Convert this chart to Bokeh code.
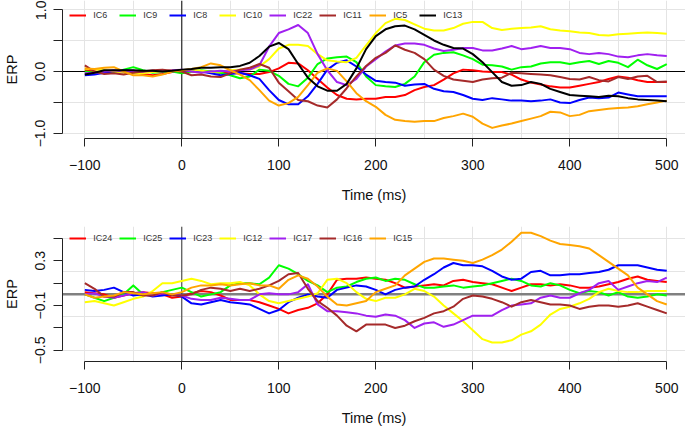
from bokeh.plotting import figure
from bokeh.models import Range1d, FixedTicker, Span, Legend, LegendItem
from bokeh.layouts import column
from bokeh.embed import file_html
from bokeh.resources import INLINE

# ---------------- data ----------------
time_ms = list(range(-100, 501, 10))

# top panel
ic6 = [0.02, 0.00, -0.02, 0.00, 0.02, 0.00, -0.04, -0.06, -0.04, -0.01,
       0.01, 0.00, -0.01, 0.00, -0.02, -0.03, -0.03, -0.04, -0.04, -0.01,
       0.05, 0.14, 0.13, 0.02, -0.12, -0.26, -0.38, -0.44, -0.45, -0.44,
       -0.44, -0.41, -0.41, -0.38, -0.30, -0.25, -0.22, -0.13, -0.03, 0.03,
       0.02, 0.00, -0.01, -0.01, -0.05, -0.13, -0.18, -0.21, -0.24, -0.26,
       -0.26, -0.23, -0.20, -0.17, -0.12, -0.08, -0.10, -0.14, -0.17, -0.17,
       -0.17]
ic9 = [0.00, -0.02, 0.00, -0.02, 0.03, 0.07, 0.02, -0.02, -0.01, 0.00,
       -0.03, 0.00, 0.02, 0.00, -0.02, -0.06, -0.11, -0.08, 0.03, 0.01,
       -0.07, -0.20, -0.24, -0.10, 0.12, 0.21, 0.23, 0.24, 0.15, -0.08,
       -0.22, -0.24, -0.25, -0.20, -0.08, 0.15, 0.27, 0.30, 0.31, 0.26,
       0.20, 0.11, 0.10, 0.08, 0.03, 0.07, 0.08, 0.13, 0.15, 0.15,
       0.12, 0.15, 0.17, 0.12, 0.17, 0.14, 0.07, 0.19, 0.10, 0.04,
       0.12]
ic8 = [-0.06, -0.05, -0.02, 0.00, 0.02, 0.01, -0.01, 0.00, 0.01, 0.00,
       0.02, 0.01, 0.00, -0.03, -0.06, -0.04, -0.02, -0.06, -0.12, -0.30,
       -0.46, -0.53, -0.53, -0.40, -0.20, 0.03, 0.14, 0.18, 0.08, -0.05,
       -0.15, -0.17, -0.18, -0.23, -0.21, -0.20, -0.28, -0.32, -0.33, -0.38,
       -0.44, -0.46, -0.43, -0.45, -0.47, -0.47, -0.48, -0.47, -0.45, -0.50,
       -0.51, -0.46, -0.42, -0.43, -0.42, -0.34, -0.37, -0.40, -0.40, -0.40,
       -0.40]
ic10 = [0.05, 0.03, 0.02, 0.00, -0.02, -0.03, -0.03, -0.01, 0.00, 0.02,
        0.02, 0.03, 0.01, -0.01, 0.00, 0.02, 0.03, 0.03, 0.08, 0.20,
        0.37, 0.43, 0.43, 0.41, 0.28, 0.18, 0.16, 0.15, 0.22, 0.42,
        0.62, 0.78, 0.85, 0.83, 0.76, 0.69, 0.66, 0.66, 0.70, 0.77,
        0.80, 0.80, 0.70, 0.67, 0.69, 0.70, 0.71, 0.73, 0.68, 0.66,
        0.65, 0.63, 0.62, 0.59, 0.58, 0.60, 0.61, 0.62, 0.63, 0.62,
        0.61]
ic22 = [-0.03, -0.02, 0.00, 0.02, 0.00, -0.01, 0.00, 0.01, 0.00, 0.02,
        0.03, 0.00, -0.02, 0.00, 0.01, 0.00, 0.02, 0.03, 0.10, 0.40,
        0.62, 0.68, 0.75, 0.62, 0.28, 0.02, -0.17, -0.22, -0.12, 0.08,
        0.20, 0.32, 0.42, 0.45, 0.45, 0.43, 0.37, 0.33, 0.35, 0.38,
        0.38, 0.34, 0.34, 0.37, 0.41, 0.36, 0.38, 0.41, 0.38, 0.38,
        0.36, 0.30, 0.28, 0.30, 0.28, 0.24, 0.23, 0.26, 0.28, 0.26,
        0.25]
ic11 = [0.10, 0.00, -0.04, -0.03, -0.05, -0.02, 0.00, 0.02, 0.03, 0.01,
        0.00, -0.06, -0.05, -0.08, -0.09, -0.03, 0.03, 0.06, 0.12, 0.06,
        -0.18, -0.32, -0.46, -0.48, -0.55, -0.58, -0.45, -0.27, -0.08, 0.09,
        0.22, 0.30, 0.42, 0.35, 0.30, 0.20, 0.03, -0.07, -0.13, -0.15,
        -0.17, -0.13, -0.11, -0.10, -0.02, -0.03, -0.04, -0.05, -0.06, -0.09,
        -0.12, -0.13, -0.09, -0.14, -0.16, -0.09, -0.12, -0.08, -0.07, -0.17,
        -0.16]
ic5 = [0.05, 0.04, 0.06, 0.07, 0.00, -0.06, -0.06, -0.08, -0.05, 0.00,
       0.02, 0.04, 0.07, 0.13, 0.10, 0.02, -0.05, -0.14, -0.30, -0.47,
       -0.55, -0.51, -0.41, -0.22, -0.02, 0.05, 0.01, -0.16, -0.35, -0.48,
       -0.57, -0.70, -0.78, -0.80, -0.81, -0.80, -0.80, -0.75, -0.72, -0.68,
       -0.73, -0.84, -0.91, -0.87, -0.84, -0.80, -0.76, -0.72, -0.65, -0.66,
       -0.72, -0.70, -0.64, -0.62, -0.60, -0.59, -0.58, -0.56, -0.53, -0.50,
       -0.47]
ic13 = [-0.05, -0.02, 0.02, 0.02, 0.02, 0.02, 0.01, 0.01, 0.00, 0.01,
        0.03, 0.04, 0.06, 0.06, 0.07, 0.07, 0.09, 0.14, 0.25, 0.40,
        0.46, 0.36, 0.12, -0.10, -0.24, -0.31, -0.31, -0.20, 0.05, 0.36,
        0.57, 0.68, 0.73, 0.74, 0.68, 0.59, 0.50, 0.43, 0.38, 0.37,
        0.28, 0.15, -0.01, -0.17, -0.23, -0.22, -0.17, -0.20, -0.28, -0.33,
        -0.38, -0.39, -0.40, -0.41, -0.39, -0.40, -0.43, -0.45, -0.46, -0.47,
        -0.48]

# bottom panel
ic24 = [0.02, 0.01, 0.00, -0.03, -0.01, 0.01, 0.02, 0.01, 0.00, -0.03,
        -0.02, 0.01, 0.03, 0.02, -0.01, -0.05, -0.05, -0.05, -0.07, -0.10,
        -0.13, -0.17, -0.14, -0.12, -0.08, 0.00, 0.13, 0.14, 0.14, 0.15,
        0.14, 0.13, 0.10, 0.06, 0.07, 0.08, 0.09, 0.08, 0.12, 0.13,
        0.11, 0.10, 0.09, 0.06, 0.03, 0.06, 0.09, 0.09, 0.08, 0.09,
        0.08, 0.06, 0.06, 0.07, 0.09, 0.11, 0.14, 0.16, 0.13, 0.12,
        0.11]
ic25 = [0.00, -0.03, -0.06, -0.03, 0.00, 0.08, 0.00, -0.01, 0.02, 0.04,
        0.06, 0.02, -0.02, 0.00, 0.02, 0.08, 0.10, 0.10, 0.09, 0.15,
        0.26, 0.23, 0.18, 0.12, 0.08, 0.02, 0.06, 0.07, 0.11, 0.14,
        0.15, 0.12, 0.14, 0.13, 0.09, 0.06, 0.06, 0.07, 0.08, 0.06,
        0.07, 0.08, 0.10, 0.12, 0.14, 0.12, 0.08, 0.07, 0.10, 0.08,
        0.04, 0.01, 0.03, 0.02, -0.01, 0.02, -0.02, -0.03, -0.02, 0.00,
        -0.01]
ic23 = [0.04, 0.03, 0.04, 0.06, 0.02, -0.01, 0.00, -0.02, -0.01, 0.00,
        -0.02, -0.08, -0.09, -0.07, -0.05, -0.07, -0.08, -0.09, -0.13, -0.17,
        -0.14, -0.07, -0.03, 0.00, -0.02, -0.03, 0.04, 0.06, 0.08, 0.07,
        0.04, 0.00, 0.04, 0.06, 0.07, 0.13, 0.18, 0.24, 0.28, 0.26,
        0.26, 0.25, 0.21, 0.16, 0.13, 0.14, 0.20, 0.21, 0.17, 0.17,
        0.18, 0.18, 0.19, 0.20, 0.22, 0.26, 0.26, 0.26, 0.24, 0.22,
        0.21]
ic12 = [-0.07, -0.06, -0.08, -0.10, -0.07, -0.04, -0.02, 0.03, 0.10, 0.10,
        0.12, 0.14, 0.12, 0.09, 0.10, 0.10, 0.11, 0.08, 0.00, -0.06,
        -0.08, -0.06, -0.04, -0.02, 0.01, 0.13, 0.14, 0.10, 0.02, -0.04,
        -0.06, -0.03, -0.03, 0.00, 0.05, 0.03, -0.02, -0.10, -0.17, -0.24,
        -0.32, -0.40, -0.43, -0.43, -0.41, -0.36, -0.33, -0.27, -0.18, -0.13,
        -0.11, -0.08, -0.04, 0.02, 0.05, 0.03, 0.02, 0.02, 0.03, 0.03,
        0.03]
ic17 = [0.00, 0.01, -0.02, -0.03, -0.01, 0.01, 0.02, -0.01, 0.01, 0.00,
        -0.01, -0.04, -0.05, -0.05, -0.03, -0.04, -0.05, -0.05, 0.00, 0.01,
        0.00, 0.00, 0.02, 0.09, -0.09, -0.15, -0.15, -0.16, -0.17, -0.19,
        -0.20, -0.18, -0.19, -0.23, -0.30, -0.26, -0.25, -0.29, -0.27, -0.23,
        -0.19, -0.19, -0.19, -0.14, -0.10, -0.09, -0.08, -0.03, -0.01, -0.03,
        -0.03, 0.01, 0.04, 0.10, 0.12, 0.04, 0.07, 0.10, 0.12, 0.11,
        0.15]
ic16 = [0.10, 0.05, -0.02, -0.02, 0.02, 0.02, -0.01, -0.01, 0.02, -0.01,
        -0.01, 0.00, 0.04, 0.06, 0.05, 0.03, 0.05, 0.03, 0.05, 0.08,
        0.12, 0.18, 0.19, 0.05, -0.06, -0.12, -0.19, -0.28, -0.33, -0.27,
        -0.27, -0.27, -0.30, -0.28, -0.24, -0.21, -0.17, -0.15, -0.11, -0.04,
        -0.01, -0.02, -0.04, -0.07, -0.11, -0.07, -0.05, -0.07, -0.09, -0.09,
        -0.10, -0.13, -0.11, -0.10, -0.10, -0.11, -0.10, -0.08, -0.11, -0.14,
        -0.17]
ic15 = [0.00, -0.03, -0.02, -0.01, 0.02, 0.01, 0.00, 0.01, 0.02, 0.00,
        0.02, 0.06, 0.08, 0.08, 0.09, 0.08, 0.09, 0.10, 0.08, 0.08,
        0.05, 0.13, 0.17, 0.14, 0.07, -0.02, -0.09, -0.10, -0.08, -0.06,
        0.02, 0.05, 0.08, 0.17, 0.23, 0.29, 0.32, 0.32, 0.31, 0.30,
        0.28, 0.31, 0.35, 0.40, 0.47, 0.55, 0.55, 0.52, 0.48, 0.45,
        0.44, 0.43, 0.41, 0.35, 0.29, 0.23, 0.17, 0.06, 0.00, -0.06,
        -0.09]

top_names = ["IC6", "IC9", "IC8", "IC10", "IC22", "IC11", "IC5", "IC13"]
top_series = [ic6, ic9, ic8, ic10, ic22, ic11, ic5, ic13]
top_colors = ["#FF0000", "#00FF00", "#0000FF", "#FFFF00", "#A020F0", "#A52A2A", "#FFA500", "#000000"]

bot_names = ["IC24", "IC25", "IC23", "IC12", "IC17", "IC16", "IC15"]
bot_series = [ic24, ic25, ic23, ic12, ic17, ic16, ic15]
bot_colors = ["#FF0000", "#00FF00", "#0000FF", "#FFFF00", "#A020F0", "#A52A2A", "#FFA500"]

x_ticks = [-100, 0, 100, 200, 300, 400, 500]
x_tick_labels = ["\u2212100", "0", "100", "200", "300", "400", "500"]
x_grid = list(range(-100, 501, 50))

top_yticks = [-1.0, -0.5, 0.0, 0.5, 1.0]
top_ylabels = ["\u22121.0", "", "0.0", "", "1.0"]
top_ygrid = [-1.0, -0.5, 0.0, 0.5, 1.0]

bot_yticks = [-0.5, -0.3, -0.1, 0.1, 0.3, 0.5]
bot_ylabels = ["\u22120.5", "", "\u22120.1", "", "0.3", ""]
bot_ygrid = [-0.5, -0.2, 0.2, 0.5]

FONT = "Liberation Sans"


def make_panel(names, series, colors, y_lo, y_hi, yticks, ylabels, ygrid,
               frame_h, b_top, b_bottom, legend_y, bounds, zero_color,
               zero_width, vline_color):
    p = figure(frame_width=623, frame_height=frame_h,
               x_range=Range1d(-123.0, 519.3), y_range=Range1d(y_lo, y_hi),
               output_backend="svg", toolbar_location=None,
               min_border_left=62, min_border_right=0,
               min_border_top=b_top, min_border_bottom=b_bottom)
    p.outline_line_color = None
    p.background_fill_color = "white"
    p.border_fill_color = "white"

    p.xgrid.ticker = FixedTicker(ticks=x_grid)
    p.ygrid.ticker = FixedTicker(ticks=ygrid)
    p.grid.grid_line_color = "#e4e4e4"
    p.grid.grid_line_width = 1

    zero_h = Span(location=0, dimension="width", line_color=zero_color,
                  line_width=zero_width, level="underlay")
    zero_v = Span(location=0, dimension="height", line_color=vline_color,
                  line_width=1, level="underlay")
    p.add_layout(zero_h)
    p.add_layout(zero_v)

    items = []
    for name, ys, c in zip(names, series, colors):
        r = p.line(time_ms, ys, line_color=c, line_width=2, line_join="round")
        items.append(LegendItem(label=name, renderers=[r]))

    legend = Legend(items=items, orientation="horizontal",
                    location=(7.3, legend_y), margin=0, padding=0,
                    spacing=0, glyph_width=17, glyph_height=10,
                    label_width=26, label_height=10, label_standoff=7,
                    label_text_font=FONT, label_text_font_size="9px",
                    label_text_color="#333333", border_line_color=None,
                    background_fill_alpha=0)
    p.add_layout(legend)

    xa = p.xaxis[0]
    xa.ticker = FixedTicker(ticks=x_ticks)
    xa.bounds = (-100, 500)
    xa.major_label_overrides = dict(zip(x_ticks, x_tick_labels))
    xa.axis_label = "Time (ms)"
    xa.minor_tick_line_color = None
    xa.major_tick_in = 0
    xa.major_tick_out = 8
    xa.major_label_standoff = 13
    xa.axis_label_standoff = 14

    ya = p.yaxis[0]
    ya.ticker = FixedTicker(ticks=yticks)
    ya.bounds = bounds
    ya.major_label_overrides = dict(zip(yticks, ylabels))
    ya.major_label_orientation = "vertical"
    ya.axis_label = "ERP"
    ya.minor_tick_line_color = None
    ya.major_tick_in = 0
    ya.major_tick_out = 9
    ya.major_label_standoff = 8
    ya.axis_label_standoff = 13

    for ax in (xa, ya):
        ax.axis_line_color = "#222222"
        ax.major_tick_line_color = "#222222"
        ax.major_label_text_font = FONT
        ax.major_label_text_font_size = "14px"
        ax.major_label_text_color = "#111111"
        ax.axis_label_text_font = FONT
        ax.axis_label_text_font_size = "14.5px"
        ax.axis_label_text_font_style = "normal"
        ax.axis_label_text_color = "#111111"
    return p


p1 = make_panel(top_names, top_series, top_colors, -1.081, 1.145,
                top_yticks, top_ylabels, top_ygrid,
                frame_h=138, b_top=0, b_bottom=80, legend_y=118,
                bounds=(-1.0, 1.0), zero_color="#000000", zero_width=1.2,
                vline_color="#000000")
p2 = make_panel(bot_names, bot_series, bot_colors, -0.5996, 0.606,
                bot_yticks, bot_ylabels, bot_ygrid,
                frame_h=135, b_top=8, b_bottom=65, legend_y=117.7,
                bounds=(-0.5, 0.5), zero_color="#808080", zero_width=2.5,
                vline_color="#333333")

layout = column(p1, p2, spacing=0)
open("out.html", "w").write(file_html(layout, INLINE))
